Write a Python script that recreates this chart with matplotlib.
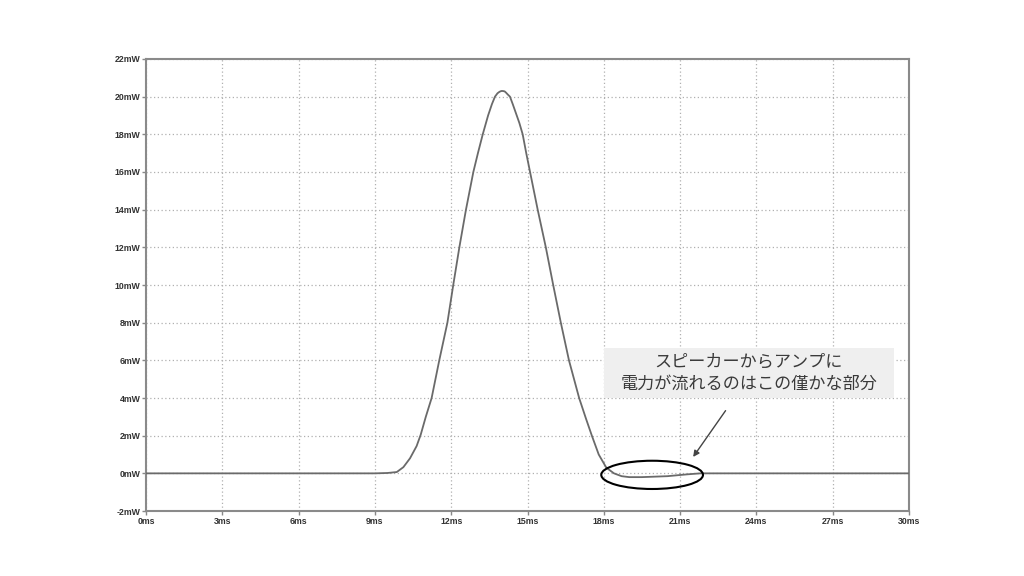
import numpy as np
import matplotlib.pyplot as plt
from matplotlib.patches import Ellipse, Rectangle

# Power waveform (time in ms, power in mW)
time_ms = [0.0, 9.0, 9.5, 9.86, 10.12, 10.38, 10.64, 10.8, 11.0, 11.23, 11.53,
           11.85, 12.08, 12.32, 12.58, 12.87, 13.05, 13.24, 13.45, 13.6, 13.72,
           13.82, 13.9, 13.97, 14.03, 14.1, 14.15, 14.22, 14.31, 14.42, 14.55,
           14.68, 14.81, 14.95, 15.1, 15.4, 15.72, 16.01, 16.31, 16.63, 17.03,
           17.3, 17.53, 17.8, 18.1, 18.4, 18.7, 19.0, 19.5, 20.5, 21.3, 21.8, 30.0]
power_mw = [0.0, 0.0, 0.02, 0.07, 0.33, 0.8, 1.45, 2.05, 3.0, 4.0, 6.0,
            8.0, 10.0, 12.0, 14.0, 16.0, 17.0, 18.0, 19.0, 19.6, 20.0,
            20.18, 20.26, 20.3, 20.3, 20.28, 20.22, 20.12, 20.0, 19.6, 19.1,
            18.6, 18.0, 17.0, 16.0, 14.0, 12.0, 10.0, 8.0, 6.0, 4.0,
            2.9, 2.0, 1.0, 0.3, 0.0, -0.15, -0.2, -0.2, -0.15, -0.05, 0.0, 0.0]

x_ticks = [0, 3, 6, 9, 12, 15, 18, 21, 24, 27, 30]
y_ticks = [-2, 0, 2, 4, 6, 8, 10, 12, 14, 16, 18, 20, 22]
note_text = 'スピーカーからアンプに\n電力が流れるのはこの僅かな部分'

plt.rcParams['font.family'] = ['Liberation Sans', 'DejaVu Sans']

fig = plt.figure(figsize=(10.24, 5.76), dpi=100)
fig.patch.set_facecolor('white')
ax = fig.add_axes([0.1426, 0.1128, 0.7451, 0.7848])

ax.plot(time_ms, power_mw, color='#6a6a6a', lw=1.3, zorder=3)

ax.set_xlim(0, 30)
ax.set_ylim(-2, 22)
ax.set_xticks(x_ticks)
ax.set_yticks(y_ticks)
ax.set_xticklabels([str(t) + 'ms' for t in x_ticks])
ax.set_yticklabels([str(v) + 'mW' for v in y_ticks])
ax.tick_params(axis='both', length=3, width=1, color='#888888', labelsize=6.3,
               labelcolor='#333333', pad=1)
for lbl in ax.get_xticklabels() + ax.get_yticklabels():
    lbl.set_fontweight('bold')

for sp in ax.spines.values():
    sp.set_color('#8a8a8a')
    sp.set_linewidth(1.5)

ax.grid(True, color='#b0b0b0', linestyle=(0, (1, 2)), lw=0.9)

# annotation box
ax.add_patch(Rectangle((0.6, 0.25), 0.38, 0.1106, transform=ax.transAxes,
                       facecolor='#efefef', edgecolor='none', zorder=4))
ax.text(0.79, 0.3053, note_text, transform=ax.transAxes, ha='center', va='center',
        fontsize=12.3, color='#3a3a3a', linespacing=1.3, zorder=5,
        family=['Noto Sans CJK JP', 'DejaVu Sans'])

# ellipse around the small negative part
ax.add_patch(Ellipse((19.9, -0.08), 4.0, 1.5, facecolor='none', edgecolor='black',
                     lw=1.5, zorder=6))
ax.annotate('', xy=(21.45, 0.75), xytext=(22.85, 3.45),
            arrowprops=dict(arrowstyle='-|>', color='#444444', lw=1.0,
                            mutation_scale=9), zorder=6)

plt.savefig('out.png', dpi=100)
